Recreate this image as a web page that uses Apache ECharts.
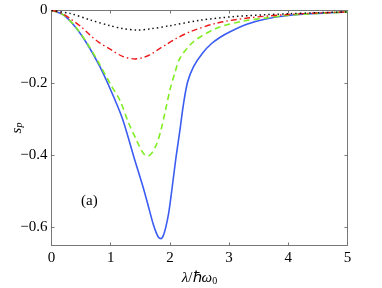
<!DOCTYPE html>
<html>
<head>
<meta charset="utf-8">
<script src="https://cdn.jsdelivr.net/npm/echarts@6/dist/echarts.min.js"></script>
<style>html,body{margin:0;padding:0;background:#fff}#c{width:382px;height:288px}</style>
</head>
<body>
<div id="c"></div>
<script>
var xTicks = [0, 1, 2, 3, 4, 5];
var yTicks = [0, -0.2, -0.4, -0.6];

var blueX = [0, 0.2, 0.4, 0.6, 0.8, 1.0, 1.2, 1.4, 1.55, 1.65, 1.72, 1.77, 1.81, 1.85, 1.89, 1.93, 1.98, 2.03, 2.1, 2.17, 2.23, 2.3, 2.4, 2.55, 2.7, 2.85, 3.0, 3.3, 3.6, 4.0, 4.5, 5.0];
var blueY = [0, -0.012, -0.045, -0.092, -0.15, -0.22, -0.3, -0.41, -0.49, -0.55, -0.592, -0.615, -0.628, -0.631, -0.622, -0.6, -0.56, -0.5, -0.41, -0.33, -0.258, -0.197, -0.155, -0.118, -0.092, -0.074, -0.06, -0.038, -0.024, -0.014, -0.008, -0.004];

var greenX = [0, 0.2, 0.4, 0.6, 0.8, 1.0, 1.16, 1.3, 1.44, 1.52, 1.58, 1.63, 1.7, 1.78, 1.85, 1.92, 2.0, 2.08, 2.17, 2.4, 2.79, 3.24, 3.6, 4.0, 4.5, 5.0];
var greenY = [0, -0.012, -0.044, -0.09, -0.145, -0.205, -0.25, -0.31, -0.36, -0.387, -0.4, -0.403, -0.393, -0.368, -0.33, -0.28, -0.22, -0.175, -0.132, -0.086, -0.049, -0.029, -0.021, -0.013, -0.008, -0.004];

var redX = [0, 0.15, 0.31, 0.5, 0.65, 0.8, 0.99, 1.2, 1.41, 1.55, 1.66, 1.8, 1.95, 2.1, 2.34, 2.79, 3.35, 4.0, 4.5, 5.0];
var redY = [0, -0.006, -0.022, -0.045, -0.068, -0.088, -0.107, -0.127, -0.134, -0.13, -0.123, -0.108, -0.093, -0.078, -0.059, -0.035, -0.02, -0.011, -0.007, -0.004];

var blackX = [0, 0.31, 0.65, 0.99, 1.2, 1.45, 1.66, 2.0, 2.51, 3.07, 3.58, 4.0, 4.5, 5.0];
var blackY = [0, -0.008, -0.026, -0.042, -0.05, -0.054, -0.051, -0.042, -0.027, -0.017, -0.012, -0.009, -0.006, -0.004];

function pairs(xs, ys) { return xs.map(function (x, i) { return [x, ys[i]]; }); }

var FONT = 'Liberation Serif';
var axisCol = '#777';
function isYTick(v) {
  for (var i = 0; i < yTicks.length; i++) if (Math.abs(v - yTicks[i]) < 1e-6) return true;
  return false;
}
function fmtY(v) {
  if (!isYTick(v)) return '';
  if (Math.abs(v) < 1e-9) return '0';
  return (v < 0 ? '\u2212' : '') + Math.abs(v).toFixed(1);
}

var chart = echarts.init(document.getElementById('c'));
chart.setOption({
  animation: false,
  backgroundColor: '#fff',
  grid: { left: 51.5, right: 34.5, top: 10.5, bottom: 42.5, containLabel: false, outerBoundsMode: 'none' },
  xAxis: [{
    type: 'value', min: xTicks[0], max: xTicks[xTicks.length - 1], interval: 1, position: 'bottom',
    splitLine: { show: false },
    axisLine: { show: true, onZero: false, lineStyle: { color: axisCol, width: 1 } },
    axisTick: { show: true, inside: true, length: 3, lineStyle: { color: axisCol } },
    axisLabel: { color: '#000', fontFamily: FONT, fontSize: 15, margin: 5, hideOverlap: false,
      formatter: function (v) { return String(v); } },
    name: '{i|\u03bb}{n|/}{n|\u210f}{i|\u03c9}{s|0}',
    nameLocation: 'middle', nameGap: 25,
    nameTextStyle: { rich: {
      i: { fontFamily: FONT, fontStyle: 'italic', fontSize: 15, color: '#000' },
      n: { fontFamily: FONT, fontSize: 15, color: '#000' },
      s: { fontFamily: FONT, fontSize: 10, color: '#000', verticalAlign: 'bottom', padding: [6, 0, 0, 0] }
    } }
  }, {
    type: 'value', min: 0, max: 5, interval: 1, position: 'top',
    splitLine: { show: false },
    axisLine: { show: true, onZero: false, lineStyle: { color: axisCol, width: 1 } },
    axisTick: { show: true, inside: true, length: 3, lineStyle: { color: axisCol } },
    axisLabel: { show: false }
  }],
  yAxis: [{
    type: 'value', min: -0.65, max: 0, interval: 0.05, position: 'left',
    splitLine: { show: false },
    axisLine: { show: true, onZero: false, lineStyle: { color: axisCol, width: 1 } },
    axisTick: { show: true, inside: true, length: 3, customValues: yTicks, lineStyle: { color: axisCol } },
    axisLabel: { color: '#000', fontFamily: FONT, fontSize: 15, margin: 4, hideOverlap: false,
      showMinLabel: true, showMaxLabel: true, formatter: fmtY },
    name: '{i|s}{s|p}', nameLocation: 'middle', nameGap: 27, nameRotate: 90, nameMoveOverlap: false,
    nameTextStyle: { rich: {
      i: { fontFamily: FONT, fontStyle: 'italic', fontSize: 15, color: '#000' },
      s: { fontFamily: FONT, fontStyle: 'italic', fontSize: 10, color: '#000', padding: [5, 0, 0, 0] }
    } }
  }, {
    type: 'value', min: -0.65, max: 0, position: 'right',
    splitLine: { show: false },
    axisLine: { show: true, onZero: false, lineStyle: { color: axisCol, width: 1 } },
    axisTick: { show: true, inside: true, length: 3, customValues: yTicks, lineStyle: { color: axisCol } },
    axisLabel: { show: false }
  }],
  graphic: [{
    type: 'text', left: 81, top: 194,
    style: { text: '(a)', fontFamily: FONT, fontSize: 15, fill: '#000' }
  }],
  series: [
    { type: 'line', data: pairs(blueX, blueY), smooth: 0.3, showSymbol: false,
      lineStyle: { color: '#3a5cf2', width: 1.6, type: 'solid' }, z: 2 },
    { type: 'line', data: pairs(greenX, greenY), smooth: 0.3, showSymbol: false,
      lineStyle: { color: '#80ee22', width: 1.6, type: [6, 4] }, z: 3 },
    { type: 'line', data: pairs(redX, redY), smooth: 0.3, showSymbol: false,
      lineStyle: { color: '#ee1a1a', width: 1.4, type: [6, 3, 1.5, 3] }, z: 4 },
    { type: 'line', data: pairs(blackX, blackY), smooth: 0.3, showSymbol: false,
      lineStyle: { color: '#111', width: 1.5, type: [1.5, 3] }, z: 5 }
  ]
});
</script>
</body>
</html>
